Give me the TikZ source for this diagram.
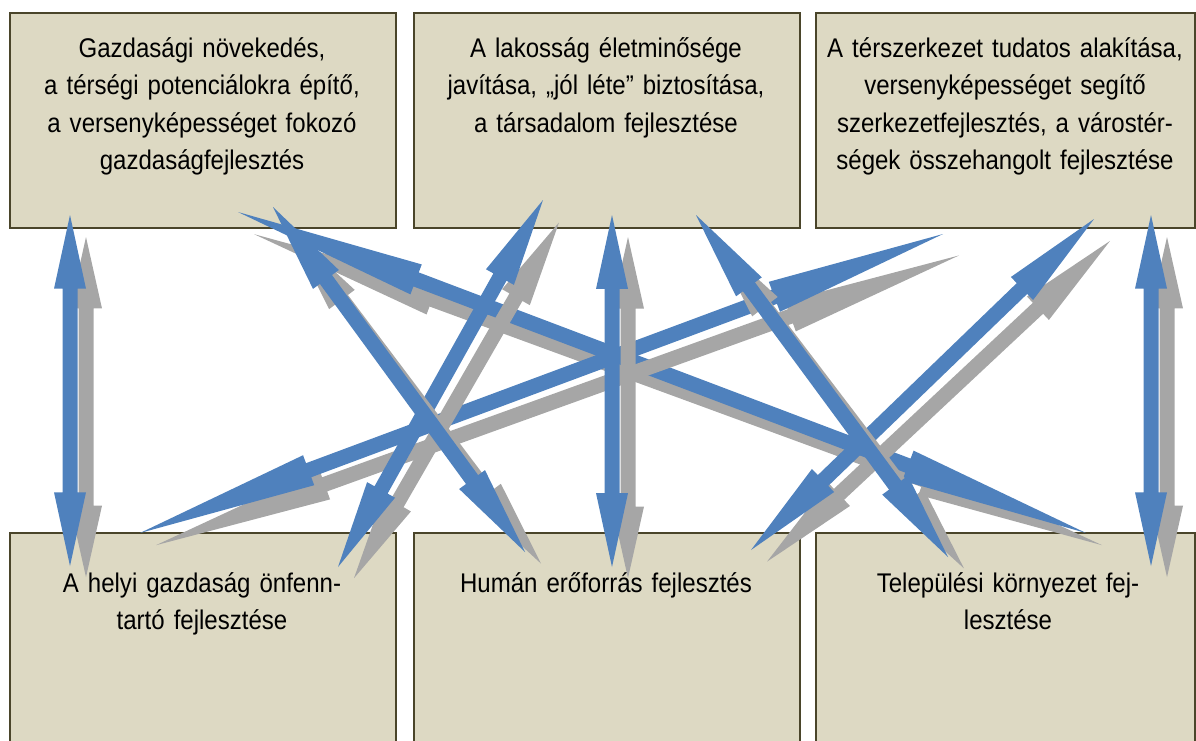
\documentclass[tikz,border=0pt]{standalone}
\usepackage{fontspec}
\setmainfont{Liberation Sans}[FakeStretch=0.89]
\usetikzlibrary{calc}
\definecolor{boxfill}{HTML}{DDD9C3}
\definecolor{boxline}{HTML}{4A452A}
\definecolor{arrblue}{HTML}{4F81BD}
\definecolor{arrgrey}{HTML}{A6A6A6}
% fat double-headed arrow between two named coordinates
\newcommand\fatarrow[3]{%
  \fill[#3] (#1) -- ($(#1)!0.21!(#2)!16pt!90:(#2)$) -- ($(#1)!0.21!(#2)!7.5pt!90:(#2)$)
   -- ($(#2)!0.21!(#1)!7.5pt!-90:(#1)$) -- ($(#2)!0.21!(#1)!16pt!-90:(#1)$) -- (#2)
   -- ($(#2)!0.21!(#1)!16pt!90:(#1)$) -- ($(#2)!0.21!(#1)!7.5pt!90:(#1)$)
   -- ($(#1)!0.21!(#2)!7.5pt!-90:(#2)$) -- ($(#1)!0.21!(#2)!16pt!-90:(#2)$) -- cycle;}
% named end points, shadow end points, then shadow and arrow
\newcommand\linkarrow[5]{%
  \coordinate (#1s) at (#2,#3);
  \coordinate (#1e) at (#4,#5);
  \coordinate (#1ss) at ({#2+16},{0.969*#3+28.7});
  \coordinate (#1se) at ({#4+16},{0.969*#5+28.7});
  \fatarrow{#1ss}{#1se}{arrgrey}
  \fatarrow{#1s}{#1e}{arrblue}}
\begin{document}
\begin{tikzpicture}[x=1pt,y=-1pt,
  box/.style={draw=boxline, line width=2pt, fill=boxfill, inner sep=0pt, anchor=north west},
  lbl/.style={anchor=base, text width=370pt, align=center, inner sep=0pt,
              font=\fontsize{27}{37.5}\selectfont}]
\useasboundingbox (0,0) rectangle (1196,740);
\clip (0,0) rectangle (1196,740);
% boxes
\node[box, minimum width=386pt, minimum height=215pt] (b1) at (9,12) {};
\node[box, minimum width=386pt, minimum height=215pt] (b2) at (413,12) {};
\node[box, minimum width=379pt, minimum height=215pt] (b3) at (815,12) {};
\node[box, minimum width=386pt, minimum height=230pt] (b4) at (9,532) {};
\node[box, minimum width=386pt, minimum height=230pt] (b5) at (413,532) {};
\node[box, minimum width=379pt, minimum height=230pt] (b6) at (815,532) {};
% labels
\node[lbl] (t1) at (202,57) {Gazdasági növekedés,\\ a térségi potenciálokra építő,\\ a versenyképességet fokozó\\ gazdaságfejlesztés};
\node[lbl] (t2) at (606,57) {A lakosság életminősége\\ javítása, „jól léte” biztosítása,\\ a társadalom fejlesztése};
\node[lbl] (t3) at (1005,57) {A térszerkezet tudatos alakítása,\\ versenyképességet segítő\\ szerkezetfejlesztés, a várostér-\\ ségek összehangolt fejlesztése};
\node[lbl] (t4) at (202,592) {A helyi gazdaság önfenn-\\ tartó fejlesztése};
\node[lbl] (t5) at (606,592) {Humán erőforrás fejlesztés};
\node[lbl] (t6) at (1008,592) {Települési környezet fej-\\ lesztése};
% arrows
\linkarrow{a1}{70}{215}{70}{566}
\linkarrow{a4}{238}{212}{1086}{533}
\linkarrow{a8}{943}{234}{140}{533}
\linkarrow{a6}{543}{200}{338}{567}
\linkarrow{a5}{273}{207}{525}{552}
\linkarrow{a9}{1094}{219}{751}{550}
\linkarrow{a7}{696}{215}{948}{557}
\linkarrow{a2}{612}{215}{612}{567}
\linkarrow{a3}{1151}{215}{1151}{566}
\end{tikzpicture}
\end{document}
